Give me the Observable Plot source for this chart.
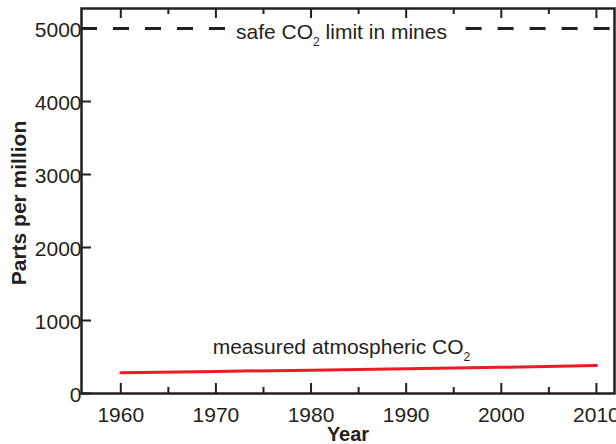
<!DOCTYPE html>
<html>
<head>
<meta charset="utf-8">
<script src="https://cdn.jsdelivr.net/npm/d3@7"></script>
<script src="https://cdn.jsdelivr.net/npm/@observablehq/plot@0.6"></script>
<style>
  html, body { margin: 0; padding: 0; background: #fff; }
  #chart { width: 616px; height: 444px; }
</style>
</head>
<body>
<div id="chart"></div>
<script>
// ---- data ----
const years = [1960, 1970, 1980, 1990, 2000, 2010];
const co2ppm = [285, 303, 320, 338, 358, 384];
const xTicks = [1960, 1970, 1980, 1990, 2000, 2010];
const xMinorTicks = [1965, 1975, 1985, 1995, 2005];
const yTicks = [0, 1000, 2000, 3000, 4000, 5000];
const safeLimit = [5000];
const annotations = ["safe CO₂ limit in mines", "measured atmospheric CO₂"];
const axisTitles = ["Year", "Parts per million"];

// ---- layout ----
const W = 616, H = 444, mL = 81, mR = 2, mT = 8, mB = 51;
const xDomain = [1955.87, 2011.9];
const yDomain = [0, 5274];
const pxX = (xDomain[1] - xDomain[0]) / (W - mL - mR);
const pxY = (yDomain[1] - yDomain[0]) / (H - mT - mB);
const majorLen = 10, minorLen = 6;
const labelGap = [1971.05, 1996.3]; // break in the dashed line around its label
const ink = "#231f20";
const font = "'Liberation Sans', Arial, Helvetica, sans-serif";
const fs = 21;

const series = years.map((y, i) => ({year: y, ppm: co2ppm[i]}));

const plot = Plot.plot({
  width: W, height: H,
  marginLeft: mL, marginRight: mR, marginTop: mT, marginBottom: mB,
  style: {fontFamily: font, fontSize: fs + "px", color: ink, background: "#fff"},
  x: {type: "linear", domain: xDomain},
  y: {type: "linear", domain: yDomain},
  marks: [
    Plot.ruleY(safeLimit, {x1: xDomain[0], x2: labelGap[0], stroke: ink, strokeWidth: 3, strokeDasharray: "16,16"}),
    Plot.ruleY(safeLimit, {x1: labelGap[1], x2: xDomain[1], stroke: ink, strokeWidth: 3, strokeDasharray: "16,16"}),
    Plot.line(series, {x: "year", y: "ppm", stroke: "#ed1c24", strokeWidth: 3}),
    Plot.text([annotations[0]], {x: 1983.2, y: safeLimit[0], dy: 4, text: d => d, fontSize: fs, fill: ink}),
    Plot.text([annotations[1]], {x: 1983.2, y: 636, text: d => d, fontSize: fs, fill: ink}),
    // bottom ticks
    Plot.ruleX(xTicks, {y1: yDomain[0], y2: yDomain[0] + majorLen * pxY, stroke: ink, strokeWidth: 2}),
    Plot.ruleX(xMinorTicks, {y1: yDomain[0], y2: yDomain[0] + minorLen * pxY, stroke: ink, strokeWidth: 2}),
    // top ticks
    Plot.ruleX(xTicks, {y1: yDomain[1], y2: yDomain[1] - majorLen * pxY, stroke: ink, strokeWidth: 2}),
    Plot.ruleX(xMinorTicks, {y1: yDomain[1], y2: yDomain[1] - minorLen * pxY, stroke: ink, strokeWidth: 2}),
    // left ticks
    Plot.ruleY(yTicks, {x1: xDomain[0], x2: xDomain[0] + majorLen * pxX, stroke: ink, strokeWidth: 2}),
    Plot.axisX({ticks: xTicks, tickSize: 0, tickPadding: 14, tickFormat: d => String(d), label: null, fontSize: fs, fill: ink}),
    Plot.axisY({ticks: yTicks, tickSize: 0, tickPadding: 0, tickFormat: d => String(d), label: null, fontSize: fs, fill: ink, dy: 2}),
    Plot.text([axisTitles[0]], {frameAnchor: "bottom", textAnchor: "middle", lineAnchor: "middle", dy: 41, text: d => d, fontWeight: "bold", fontSize: 20, fill: ink}),
    Plot.text([axisTitles[1]], {frameAnchor: "left", textAnchor: "middle", lineAnchor: "middle", rotate: -90, dx: -62, dy: 2, text: d => d, fontWeight: "bold", fontSize: fs, fill: ink}),
    Plot.frame({stroke: ink, strokeWidth: 2.5})
  ]
});

// render the subscript 2 as a real lowered, smaller digit
plot.querySelectorAll("text").forEach(t => {
  const s = t.textContent;
  if (s.includes("₂") && t.children.length === 0) {
    const [a, b] = s.split("₂");
    t.textContent = "";
    const NS = "http://www.w3.org/2000/svg";
    const t1 = document.createElementNS(NS, "tspan"); t1.textContent = a;
    const t2 = document.createElementNS(NS, "tspan"); t2.textContent = "2";
    t2.setAttribute("dy", "7"); t2.setAttribute("font-size", "12");
    const t3 = document.createElementNS(NS, "tspan"); t3.textContent = b;
    t3.setAttribute("dy", "-7");
    t.append(t1, t2, t3);
  }
});

document.getElementById("chart").appendChild(plot);
</script>
</body>
</html>
